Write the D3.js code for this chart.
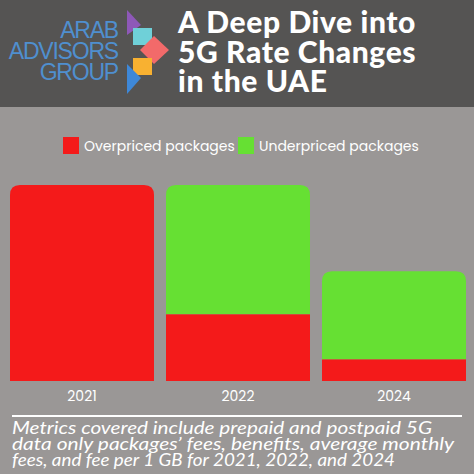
<!DOCTYPE html><html><head><meta charset="utf-8">
<script src="https://cdn.jsdelivr.net/npm/d3@7"></script>
<style>body{margin:0;background:#9a9796}</style></head><body>
<svg id="c" width="474" height="474"></svg>
<script>
const years = ["2021","2022","2024"];
const overpriced = [100,34,11];
const underpriced = [0,66,45];
const seriesNames = ["Overpriced packages","Underpriced packages"];
const colors = ["#f41a1a","#66e033"];

const svg = d3.select("#c");
svg.append("rect").attr("width",474).attr("height",474).attr("fill","#9a9796");
svg.append("rect").attr("width",474).attr("height",107).attr("fill","#555453");
const lg = svg.append("g");
["ARAB","ADVISORS","GROUP"].forEach((t,i)=>lg.append("text").attr("x",118).attr("y",38+i*21)
  .attr("text-anchor","end").attr("font-family","Liberation Sans").attr("font-size",23)
  .attr("letter-spacing",-1.2).attr("fill","#4f8fcf").text(t));
lg.append("path").attr("d","M127,10 L141,25 L127,35Z").attr("fill","#8e58b8");
lg.append("path").attr("d","M133,28 L152,28 L152,45 L133,45Z").attr("fill","#6fd0d8");
lg.append("path").attr("d","M140,50 L154,36 L169,50 L154,64Z").attr("fill","#f26a6a");
lg.append("path").attr("d","M133,58 L152,58 L152,75 L133,75Z").attr("fill","#f8b131");
lg.append("path").attr("d","M127,64 L141,78 L127,94Z").attr("fill","#3e88d8");
["A Deep Dive into","5G Rate Changes","in the UAE"].forEach((t,i)=>svg.append("text")
  .attr("x",178).attr("y",33+i*29.5).attr("font-family","Lato").attr("font-weight",900)
  .attr("font-size",30).attr("letter-spacing",0.6).attr("fill","#fff").text(t));

seriesNames.forEach((n,i)=>{
  const x=[63,238][i];
  svg.append("rect").attr("x",x).attr("y",137).attr("width",16).attr("height",17).attr("fill",colors[i]);
  svg.append("text").attr("x",x+21).attr("y",151).attr("font-family","Poppins, Lato").attr("font-size",14)
   .attr("fill","#fff").text(n);
});

const x = d3.scaleBand().domain(years).range([10,466]).paddingInner(0.077).paddingOuter(0);
const y = d3.scaleLinear().domain([0,100]).range([381,185]);
const data = years.map((yr,i)=>({yr,o:overpriced[i],u:underpriced[i]}));
const r=10;
function topRounded(x0,y0,w,h){return `M${x0},${y0+h}V${y0+r}Q${x0},${y0} ${x0+r},${y0}H${x0+w-r}Q${x0+w},${y0} ${x0+w},${y0+r}V${y0+h}Z`;}
data.forEach(d=>{
  const bx=x(d.yr),w=x.bandwidth();
  const tot=d.o+d.u;
  if(d.u>0){
    svg.append("path").attr("d",topRounded(bx,y(tot),w,y(d.o)-y(tot))).attr("fill",colors[1]);
    svg.append("rect").attr("x",bx).attr("y",y(d.o)).attr("width",w).attr("height",y(0)-y(d.o)).attr("fill",colors[0]);
  } else {
    svg.append("path").attr("d",topRounded(bx,y(tot),w,y(0)-y(tot))).attr("fill",colors[0]);
  }
  svg.append("text").attr("x",bx+w/2).attr("y",401).attr("text-anchor","middle")
    .attr("font-family","Poppins, Lato").attr("font-size",14).attr("fill","#fff").text(d.yr);
});
svg.append("line").attr("x1",12).attr("x2",462).attr("y1",416).attr("y2",416).attr("stroke","#fff").attr("stroke-width",2);
[["Metrics covered include prepaid and postpaid 5G",420],["data only packages’ fees, benefits, average monthly",442],["fees, and fee per 1 GB for 2021, 2022, and 2024",383]]
 .forEach(([t,L],i)=>svg.append("text").attr("x",12).attr("y",434+i*16).attr("font-family","Lato")
  .attr("font-style","italic").attr("font-size",17).attr("textLength",L).attr("lengthAdjust","spacingAndGlyphs")
  .attr("fill","#fff").text(t));
</script></body></html>
